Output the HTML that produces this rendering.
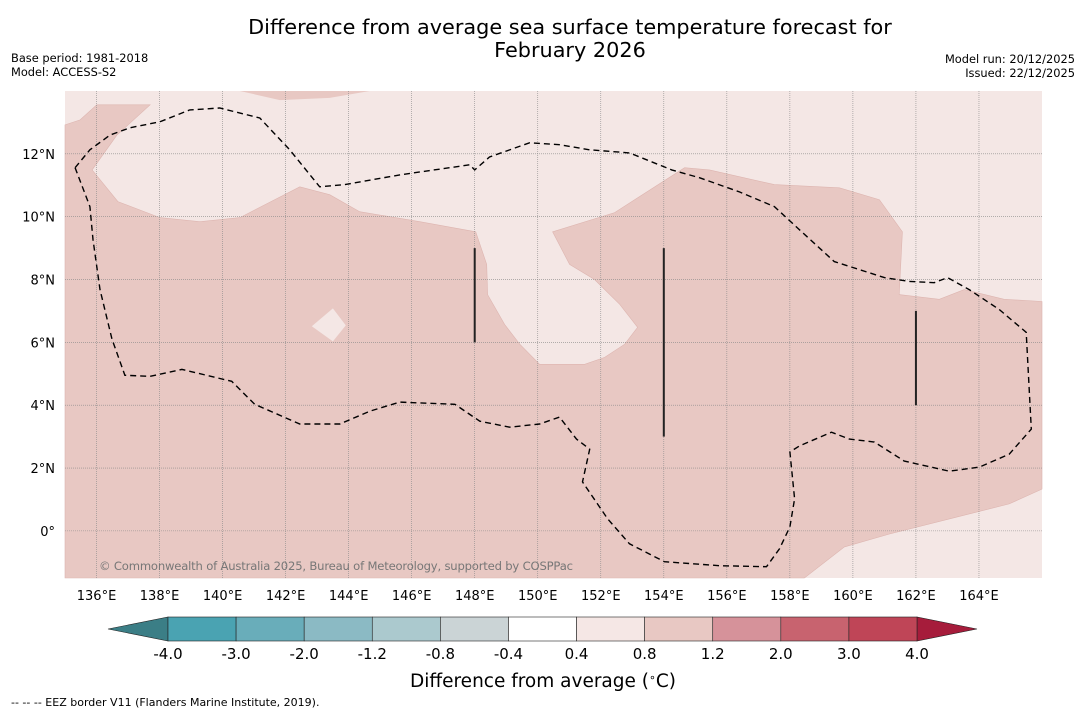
<!DOCTYPE html>
<html><head><meta charset="utf-8"><style>
body{margin:0;background:#fff;width:1085px;height:713px;overflow:hidden;font-family:"Liberation Sans","DejaVu Sans",sans-serif}
svg{display:block}
</style></head><body>
<svg width="1085" height="713" id="chart" font-family="DejaVu Sans, Liberation Sans, sans-serif">
<text x="570" y="34" text-anchor="middle" font-size="20.8">Difference from average sea surface temperature forecast for</text>
<text x="570" y="57" text-anchor="middle" font-size="20.8">February 2026</text>
<text x="11" y="62" font-size="11.4">Base period: 1981-2018</text>
<text x="11" y="76" font-size="11.4">Model: ACCESS-S2</text>
<text x="1075" y="63" font-size="11.4" text-anchor="end">Model run: 20/12/2025</text>
<text x="1075" y="77" font-size="11.4" text-anchor="end">Issued: 22/12/2025</text>
<g id="map"></g>
<text x="99" y="570" font-size="11.6" fill="#777" textLength="474">© Commonwealth of Australia 2025, Bureau of Meteorology, supported by COSPPac</text>
<g id="xticks"></g>
<g id="yticks"></g>
<g id="cbar"></g>
<text x="543" y="687" font-size="18.5" text-anchor="middle">Difference from average (<tspan baseline-shift="super" font-size="11">∘</tspan>C)</text>
<text x="11" y="706" font-size="11">--  --  -- EEZ border V11 (Flanders Marine Institute, 2019).</text>
</svg>
<script>
const lonTicks=[136,138,140,142,144,146,148,150,152,154,156,158,160,162,164];
const latTicks=[0,2,4,6,8,10,12];
const cbLevels=["-4.0","-3.0","-2.0","-1.2","-0.8","-0.4","0.4","0.8","1.2","2.0","3.0","4.0"];
const cbColors=["#4aa3b2","#69adba","#8bbac4","#abc9ce","#cbd4d6","#ffffff","#f5e7e5","#e8c8c3","#d6929a","#c8636f","#bf4557"];
const darkLon=[135,135.48,136.01,137.7,136.65,135.86,136.68,138.01,139.28,140.55,142.45,143.4,144.35,146.26,148.03,148.38,148.41,148.95,149.43,150.06,151.49,152.12,152.76,153.17,152.6,151.8,151.01,150.47,152.44,154.66,155.45,157.51,159.57,160.84,161.57,161.47,162.74,163.53,164.8,166,166,164.96,163.06,161.16,159.73,158.46,135];
const darkLat=[12.92,13.08,13.56,13.56,12.6,11.49,10.48,9.97,9.84,9.97,10.95,10.7,10.16,9.84,9.52,8.48,7.52,6.57,5.94,5.3,5.3,5.52,5.94,6.48,7.21,8.0,8.48,9.52,10.13,11.56,11.49,11.02,10.92,10.54,9.52,7.52,7.37,7.68,7.37,7.3,1.33,0.86,0.38,-0.1,-0.51,-1.5,-1.5];
const topLon=[140.55,141.82,143.4,144.67];
const topLat=[14,13.71,13.78,14];
const holeLon=[142.83,143.5,143.91,143.5];
const holeLat=[6.51,7.08,6.54,6.03];
const eezLon=[135.32,135.79,136.43,137.06,138.01,138.96,139.91,141.18,142.13,143.08,143.88,145.62,147.84,148.0,148.47,149.74,150.69,151.65,152.91,154.25,155.13,156.4,157.51,158.3,159.41,161.0,161.79,162.58,163.0,163.69,164.64,165.5,165.66,164.96,164.01,163.06,161.63,160.68,159.89,159.32,158.3,158.0,158.15,158.0,157.67,157.26,155.77,154.02,152.91,152.22,151.42,151.65,151.23,150.69,150.06,149.11,148.16,147.37,145.62,144.67,143.72,142.45,141.02,140.29,138.71,137.7,136.9,136.49,136.11,135.89,135.79,135.32];
const eezLat=[11.56,12.13,12.6,12.83,13.02,13.4,13.46,13.14,12.13,10.95,11.02,11.33,11.65,11.49,11.9,12.35,12.29,12.13,12.03,11.49,11.24,10.79,10.32,9.59,8.57,8.06,7.94,7.9,8.06,7.68,7.05,6.32,3.24,2.44,2.03,1.9,2.22,2.83,2.92,3.14,2.7,2.51,1.02,0.13,-0.57,-1.14,-1.11,-0.98,-0.41,0.38,1.56,2.6,2.92,3.62,3.4,3.3,3.49,4.03,4.1,3.81,3.4,3.4,4.03,4.76,5.14,4.92,4.95,6.1,7.68,9.27,10.32,11.56];
const segLon=[148,154,162];
const segLat0=[6,3,4];
const segLat1=[9,9,7];
const NS='http://www.w3.org/2000/svg';
const X0=65,X1=1042,Y0=91,Y1=578,LON0=135,LON1=166,LAT0=-1.5,LAT1=14;
const sx=l=>X0+(l-LON0)/(LON1-LON0)*(X1-X0);
const sy=l=>Y0+(LAT1-l)/(LAT1-LAT0)*(Y1-Y0);
function mk(t,a,p){const e=document.createElementNS(NS,t);for(const k in a)e.setAttribute(k,a[k]);(p||map).appendChild(e);return e;}
const map=document.getElementById('map');
const pts=(lo,la)=>lo.map((v,i)=>sx(v).toFixed(1)+','+sy(la[i]).toFixed(1)).join(' ');
let e=mk('rect',{x:X0,y:Y0,width:X1-X0,height:Y1-Y0,fill:'#f4e7e5'});

e=mk('polygon',{points:pts(darkLon,darkLat),fill:'#e8c8c3',stroke:'#ddb5b0','stroke-width':0.6});

e=mk('polygon',{points:pts(topLon,topLat),fill:'#e8c8c3'});

e=mk('polygon',{points:pts(holeLon,holeLat),fill:'#f4e7e5'});

lonTicks.forEach(l=>{const g=mk('line',{x1:sx(l),x2:sx(l),y1:Y0,y2:Y1,stroke:'#888','stroke-width':0.6,'stroke-dasharray':'1,1'});
});
latTicks.forEach(l=>{const g=mk('line',{x1:X0,x2:X1,y1:sy(l),y2:sy(l),stroke:'#888','stroke-width':0.6,'stroke-dasharray':'1,1'});
});
e=mk('polyline',{points:pts(eezLon,eezLat),fill:'none',stroke:'#000','stroke-width':1.4,'stroke-dasharray':'6,4'});

segLon.forEach((l,i)=>{const s=mk('line',{x1:sx(l),x2:sx(l),y1:sy(segLat0[i]),y2:sy(segLat1[i]),stroke:'#222','stroke-width':2});
});
const xt=document.getElementById('xticks'),yt=document.getElementById('yticks');
lonTicks.forEach(l=>{const t=mk('text',{x:sx(l),y:600,'font-size':13,'text-anchor':'middle'},xt);t.textContent=l+'°E';
});
latTicks.forEach(l=>{const t=mk('text',{x:55,y:sy(l)+5,'font-size':13,'text-anchor':'end'},yt);t.textContent=l===0?'0°':l+'°N';
});
const cb=document.getElementById('cbar');const CB0=168,CB1=917,CBY=617,CBH=24;const w=(CB1-CB0)/cbColors.length;
e=mk('polygon',{points:`108,${CBY+CBH/2} ${CB0},${CBY} ${CB0},${CBY+CBH}`,fill:'#3b7e86',stroke:'#222','stroke-width':0.6},cb);

e=mk('polygon',{points:`977,${CBY+CBH/2} ${CB1},${CBY} ${CB1},${CBY+CBH}`,fill:'#a61c3b',stroke:'#222','stroke-width':0.6},cb);

cbColors.forEach((c,i)=>{const r=mk('rect',{x:CB0+i*w,y:CBY,width:w,height:CBH,fill:c,stroke:'#222','stroke-width':0.6},cb);
});
cbLevels.forEach((s,i)=>{const t=mk('text',{x:CB0+i*w,y:659,'font-size':15,'text-anchor':'middle'},cb);t.textContent=s;
});
</script>
</body></html>
